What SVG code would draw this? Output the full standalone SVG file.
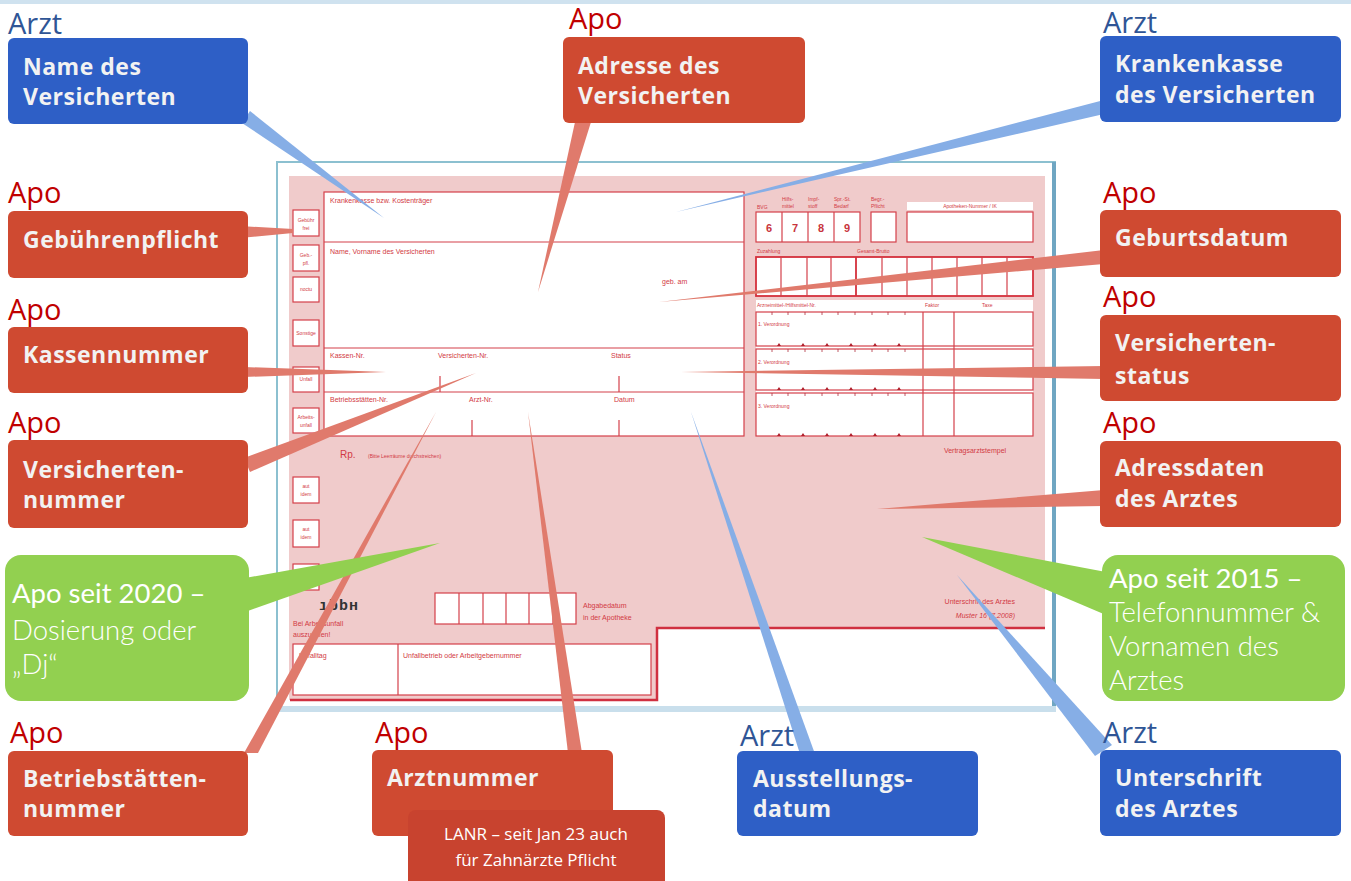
<svg xmlns="http://www.w3.org/2000/svg" width="1351" height="881" viewBox="0 0 1351 881">
<style>
.lblA{font-family:"Open Sans","Noto Sans",sans-serif;font-size:29px;fill:#2f5596}
.lblP{font-family:"Open Sans","Noto Sans",sans-serif;font-size:29px;fill:#c00000}
.bt{font-family:"Open Sans","Noto Sans",sans-serif;font-size:23px;font-weight:bold;fill:#f2f2f2;letter-spacing:0.5px}
.rb{fill:#cf4a31}
.bb{fill:#2e5fc6}
.gb{fill:#92d050}
.gt{font-family:Lato,"Open Sans",sans-serif;font-size:27.5px;fill:#ffffff}
.gl{font-weight:300}
.ft{font-family:"Liberation Sans",Arial,sans-serif;font-size:7px;fill:#d23a44}
.fs{font-family:"Liberation Sans",Arial,sans-serif;font-size:5px;fill:#d23a44}
.fb{fill:#ffffff;stroke:#d4404a;stroke-width:1.2}
.fl{stroke:#d4404a;stroke-width:1.2;fill:none}
.wb{fill:#86aee6}
.wr{fill:#e07a6c}
</style>
<rect x="0" y="0" width="1351" height="881" fill="#ffffff"/>
<rect x="0" y="0" width="1351" height="4" fill="#cfe2ef"/>

<g id="form">
  <rect x="277" y="162" width="778" height="547" fill="#ffffff" stroke="#8cc0d0" stroke-width="2"/>
  <rect x="1052" y="162" width="4" height="547" fill="#6fa6c2"/>
  <rect x="277" y="706" width="779" height="6" fill="#c9dfec"/>
  <path d="M289,176 H1045 V628 H657 V700 H289 Z" fill="#f0cbcb"/>
  <path d="M290,700 H657 V628 H1045" fill="none" stroke="#d03040" stroke-width="2.5"/>

  <g>
    <rect class="fb" x="293" y="210" width="26" height="26"/>
    <text class="fs" x="306" y="222" text-anchor="middle">Gebühr</text>
    <text class="fs" x="306" y="230" text-anchor="middle">frei</text>
    <rect class="fb" x="293" y="245" width="26" height="26"/>
    <text class="fs" x="306" y="257" text-anchor="middle">Geb.-</text>
    <text class="fs" x="306" y="265" text-anchor="middle">pfl.</text>
    <rect class="fb" x="293" y="277" width="26" height="25"/>
    <text class="fs" x="306" y="291" text-anchor="middle">noctu</text>
    <rect class="fb" x="293" y="320" width="26" height="26"/>
    <text class="fs" x="306" y="335" text-anchor="middle">Sonstige</text>
    <rect class="fb" x="293" y="367" width="26" height="25"/>
    <text class="fs" x="306" y="381" text-anchor="middle">Unfall</text>
    <rect class="fb" x="293" y="408" width="26" height="25"/>
    <text class="fs" x="306" y="419" text-anchor="middle">Arbeits-</text>
    <text class="fs" x="306" y="427" text-anchor="middle">unfall</text>
  </g>

  <rect class="fb" x="324" y="192" width="420" height="244"/>
  <line class="fl" x1="324" y1="242" x2="744" y2="242"/>
  <line class="fl" x1="324" y1="348" x2="744" y2="348"/>
  <line class="fl" x1="324" y1="392" x2="744" y2="392"/>
  <line class="fl" x1="440" y1="376" x2="440" y2="392"/>
  <line class="fl" x1="619" y1="376" x2="619" y2="392"/>
  <line class="fl" x1="472" y1="420" x2="472" y2="436"/>
  <line class="fl" x1="619" y1="420" x2="619" y2="436"/>
  <text class="ft" x="330" y="203">Krankenkasse bzw. Kostenträger</text>
  <text class="ft" x="330" y="254">Name, Vorname des Versicherten</text>
  <text class="ft" x="662" y="284">geb. am</text>
  <text class="ft" x="330" y="358">Kassen-Nr.</text>
  <text class="ft" x="438" y="358">Versicherten-Nr.</text>
  <text class="ft" x="611" y="358">Status</text>
  <text class="ft" x="330" y="402">Betriebsstätten-Nr.</text>
  <text class="ft" x="469" y="402">Arzt-Nr.</text>
  <text class="ft" x="614" y="402">Datum</text>

  <text class="fs" x="757" y="209">BVG</text>
  <text class="fs" x="782" y="201">Hilfs-</text>
  <text class="fs" x="782" y="208">mittel</text>
  <text class="fs" x="808" y="201">Impf-</text>
  <text class="fs" x="808" y="208">stoff</text>
  <text class="fs" x="834" y="201">Spr.-St.</text>
  <text class="fs" x="834" y="208">Bedarf</text>
  <text class="fs" x="871" y="201">Begr.-</text>
  <text class="fs" x="871" y="208">Pflicht</text>
  <rect x="907" y="202" width="126" height="8" fill="#ffffff"/>
  <text class="fs" x="970" y="208" text-anchor="middle">Apotheken-Nummer / IK</text>
  <rect class="fb" x="756" y="212" width="104" height="30"/>
  <line class="fl" x1="782" y1="212" x2="782" y2="242"/>
  <line class="fl" x1="808" y1="212" x2="808" y2="242"/>
  <line class="fl" x1="834" y1="212" x2="834" y2="242"/>
  <g font-family="Liberation Sans, Arial, sans-serif" font-size="11" font-weight="bold" fill="#c8343c" text-anchor="middle">
    <text x="769" y="232">6</text><text x="795" y="232">7</text><text x="821" y="232">8</text><text x="847" y="232">9</text>
  </g>
  <rect class="fb" x="871" y="212" width="25" height="30"/>
  <rect class="fb" x="907" y="212" width="126" height="30"/>

  <text class="fs" x="757" y="253">Zuzahlung</text>
  <text class="fs" x="857" y="253">Gesamt-Brutto</text>
  <rect x="756" y="257" width="277" height="39" fill="#ffffff" stroke="#d4303c" stroke-width="1.8"/>
  <line x1="856" y1="257" x2="856" y2="296" stroke="#d4303c" stroke-width="1.8"/>
  <g class="fl">
    <line x1="781" y1="257" x2="781" y2="296"/><line x1="807" y1="257" x2="807" y2="296"/><line x1="831" y1="257" x2="831" y2="296"/>
    <line x1="882" y1="257" x2="882" y2="296"/><line x1="907" y1="257" x2="907" y2="296"/><line x1="932" y1="257" x2="932" y2="296"/>
    <line x1="957" y1="257" x2="957" y2="296"/><line x1="982" y1="257" x2="982" y2="296"/><line x1="1007" y1="257" x2="1007" y2="296"/>
  </g>

  <rect x="756" y="300" width="277" height="136" fill="#ffffff"/>
  <text class="fs" x="757" y="307">Arzneimittel-/Hilfsmittel-Nr.</text>
  <text class="fs" x="925" y="307">Faktor</text>
  <text class="fs" x="982" y="307">Taxe</text>
  <rect class="fb" x="756" y="312" width="277" height="34"/>
  <rect class="fb" x="756" y="349" width="277" height="41"/>
  <rect class="fb" x="756" y="393" width="277" height="43"/>
  <line class="fl" x1="923" y1="312" x2="923" y2="436"/>
  <line class="fl" x1="954" y1="312" x2="954" y2="436"/>
  <text class="fs" x="758" y="326">1. Verordnung</text>
  <text class="fs" x="758" y="364">2. Verordnung</text>
  <text class="fs" x="758" y="408">3. Verordnung</text>
  <g stroke="#b03040" stroke-width="0.8">
    <path d="M772,312v3M788,312v3M805,312v3M822,312v3M838,312v3M855,312v3M872,312v3M888,312v3M905,312v3"/>
    <path d="M772,349v3M788,349v3M805,349v3M822,349v3M838,349v3M855,349v3M872,349v3M888,349v3M905,349v3"/>
    <path d="M772,393v3M788,393v3M805,393v3M822,393v3M838,393v3M855,393v3M872,393v3M888,393v3M905,393v3"/>
  </g>
  <g fill="#b0202c">
    <path d="M777,346l2,-3l2,3zM801,346l2,-3l2,3zM825,346l2,-3l2,3zM849,346l2,-3l2,3zM873,346l2,-3l2,3zM897,346l2,-3l2,3z"/>
    <path d="M777,390l2,-3l2,3zM801,390l2,-3l2,3zM825,390l2,-3l2,3zM849,390l2,-3l2,3zM873,390l2,-3l2,3zM897,390l2,-3l2,3z"/>
    <path d="M777,436l2,-3l2,3zM801,436l2,-3l2,3zM825,436l2,-3l2,3zM849,436l2,-3l2,3zM873,436l2,-3l2,3zM897,436l2,-3l2,3z"/>
  </g>
  <text class="ft" x="975" y="453" text-anchor="middle">Vertragsarztstempel</text>

  <text x="340" y="458" font-family="Liberation Sans, Arial, sans-serif" font-size="10" fill="#d23a44">Rp.</text>
  <text class="fs" x="368" y="458" font-size="6">(Bitte Leerräume durchstreichen)</text>

  <rect class="fb" x="293" y="477" width="26" height="26"/>
  <text class="fs" x="306" y="488" text-anchor="middle" font-size="6">aut</text>
  <text class="fs" x="306" y="496" text-anchor="middle" font-size="6">idem</text>
  <rect class="fb" x="293" y="520" width="26" height="27"/>
  <text class="fs" x="306" y="531" text-anchor="middle" font-size="6">aut</text>
  <text class="fs" x="306" y="539" text-anchor="middle" font-size="6">idem</text>
  <rect class="fb" x="293" y="564" width="26" height="26"/>

  <text x="319" y="610" font-family="Liberation Mono, monospace" font-size="15" font-weight="bold" fill="#333333" letter-spacing="1">ıbbн</text>
  <text class="ft" x="293" y="626">Bei Arbeitsunfall</text>
  <text class="ft" x="293" y="637">auszufüllen!</text>

  <rect class="fb" x="435" y="593" width="141" height="31"/>
  <g class="fl"><line x1="459" y1="593" x2="459" y2="624"/><line x1="483" y1="593" x2="483" y2="624"/><line x1="506" y1="593" x2="506" y2="624"/><line x1="529" y1="593" x2="529" y2="624"/><line x1="553" y1="593" x2="553" y2="624"/></g>
  <text class="ft" x="583" y="608" font-size="7.5">Abgabedatum</text>
  <text class="ft" x="583" y="620" font-size="7.5">in der Apotheke</text>

  <rect class="fb" x="293" y="644" width="358" height="51"/>
  <line class="fl" x1="398" y1="644" x2="398" y2="695"/>
  <text class="ft" x="299" y="658">Unfalltag</text>
  <text class="ft" x="403" y="658">Unfallbetrieb oder Arbeitgebernummer</text>

  <text class="ft" x="1015" y="604" text-anchor="end">Unterschrift des Arztes</text>
  <text class="ft" x="1015" y="618" text-anchor="end" font-style="italic">Muster 16 (7.2008)</text>
</g>

<g id="connectors">
  <polygon class="wb" points="250,111 242,123 384,218"/>
  <polygon class="wr" points="575,122 591,122 538,292"/>
  <polygon class="wb" points="1104,100 1104,114 676,212"/>
  <polygon class="wr" points="240,226 240,238 293,233 293,229"/>
  <polygon class="wr" points="1104,250 1104,264 659,302"/>
  <polygon class="wr" points="244,367 244,377 386,372"/>
  <polygon class="wr" points="1104,366 1104,379 681,372"/>
  <polygon class="wr" points="244,458 250,472 476,373"/>
  <polygon class="wr" points="1104,490 1104,506 877,509"/>
  <polygon class="wr" points="244,753 258,753 436,412"/>
  <polygon class="wr" points="568,753 582,753 528,412"/>
  <polygon class="wb" points="800,754 815,754 691,412"/>
  <polygon class="wb" points="1095,756 1112,745 957,575"/>
</g>

<g id="n-name">
  <text class="lblA" x="8" y="34">Arzt</text>
  <rect class="bb" x="8" y="38" width="240" height="86" rx="6"/>
  <text class="bt" x="23" y="75">Name des</text>
  <text class="bt" x="23" y="105">Versicherten</text>
</g>
<g id="n-adresse">
  <text class="lblP" x="569" y="29">Apo</text>
  <rect class="rb" x="563" y="37" width="242" height="86" rx="6"/>
  <text class="bt" x="578" y="74">Adresse des</text>
  <text class="bt" x="578" y="104">Versicherten</text>
</g>
<g id="n-krankenkasse">
  <text class="lblA" x="1103" y="33">Arzt</text>
  <rect class="bb" x="1100" y="36" width="241" height="86" rx="6"/>
  <text class="bt" x="1115" y="72">Krankenkasse</text>
  <text class="bt" x="1115" y="103">des Versicherten</text>
</g>
<g id="n-gebuehr">
  <text class="lblP" x="8" y="203">Apo</text>
  <rect class="rb" x="8" y="211" width="240" height="67" rx="6"/>
  <text class="bt" x="23" y="248">Gebührenpflicht</text>
</g>
<g id="n-geburtsdatum">
  <text class="lblP" x="1103" y="203">Apo</text>
  <rect class="rb" x="1100" y="210" width="241" height="67" rx="6"/>
  <text class="bt" x="1115" y="246">Geburtsdatum</text>
</g>
<g id="n-kassennummer">
  <text class="lblP" x="8" y="320">Apo</text>
  <rect class="rb" x="8" y="327" width="240" height="66" rx="6"/>
  <text class="bt" x="23" y="363">Kassennummer</text>
</g>
<g id="n-status">
  <text class="lblP" x="1103" y="307">Apo</text>
  <rect class="rb" x="1100" y="315" width="241" height="86" rx="6"/>
  <text class="bt" x="1115" y="351">Versicherten-</text>
  <text class="bt" x="1115" y="384">status</text>
</g>
<g id="n-versnr">
  <text class="lblP" x="8" y="433">Apo</text>
  <rect class="rb" x="8" y="440" width="240" height="88" rx="6"/>
  <text class="bt" x="23" y="478">Versicherten-</text>
  <text class="bt" x="23" y="508">nummer</text>
</g>
<g id="n-adressdaten">
  <text class="lblP" x="1103" y="433">Apo</text>
  <rect class="rb" x="1100" y="441" width="241" height="86" rx="6"/>
  <text class="bt" x="1115" y="476">Adressdaten</text>
  <text class="bt" x="1115" y="507">des Arztes</text>
</g>
<g id="n-dosierung">
  <polygon class="gb" points="245,578 245,612 440,543"/>
  <rect class="gb" x="5" y="555" width="244" height="146" rx="16"/>
  <text class="gt" x="12" y="603">Apo seit 2020 –</text>
  <text class="gt gl" x="12" y="640">Dosierung oder</text>
  <text class="gt gl" x="12" y="674">„Dj“</text>
</g>
<g id="n-telefon">
  <polygon class="gb" points="1106,572 1106,615 922,537"/>
  <rect class="gb" x="1102" y="555" width="243" height="146" rx="16"/>
  <text class="gt" x="1109" y="588">Apo seit 2015 –</text>
  <text class="gt gl" x="1109" y="622">Telefonnummer &amp;</text>
  <text class="gt gl" x="1109" y="656">Vornamen des</text>
  <text class="gt gl" x="1109" y="690">Arztes</text>
</g>
<g id="n-betriebsstaette">
  <text class="lblP" x="10" y="743">Apo</text>
  <rect class="rb" x="8" y="751" width="240" height="85" rx="6"/>
  <text class="bt" x="23" y="787">Betriebstätten-</text>
  <text class="bt" x="23" y="817">nummer</text>
</g>
<g id="n-arztnummer">
  <text class="lblP" x="375" y="743">Apo</text>
  <rect class="rb" x="372" y="750" width="241" height="86" rx="6"/>
  <text class="bt" x="387" y="786">Arztnummer</text>
</g>
<g id="n-lanr">
  <rect x="408" y="810" width="257" height="80" rx="8" fill="#c8432f"/>
  <text x="536" y="840" text-anchor="middle" font-family="Open Sans, Noto Sans, sans-serif" font-size="17" fill="#ffffff">LANR – seit Jan 23 auch</text>
  <text x="536" y="866" text-anchor="middle" font-family="Open Sans, Noto Sans, sans-serif" font-size="17" fill="#ffffff">für Zahnärzte Pflicht</text>
</g>
<g id="n-ausstellung">
  <text class="lblA" x="740" y="746">Arzt</text>
  <rect class="bb" x="737" y="751" width="241" height="85" rx="6"/>
  <text class="bt" x="753" y="787">Ausstellungs-</text>
  <text class="bt" x="753" y="817">datum</text>
</g>
<g id="n-unterschrift">
  <text class="lblA" x="1103" y="743">Arzt</text>
  <rect class="bb" x="1100" y="750" width="241" height="86" rx="6"/>
  <text class="bt" x="1115" y="786">Unterschrift</text>
  <text class="bt" x="1115" y="817">des Arztes</text>
</g>
</svg>
